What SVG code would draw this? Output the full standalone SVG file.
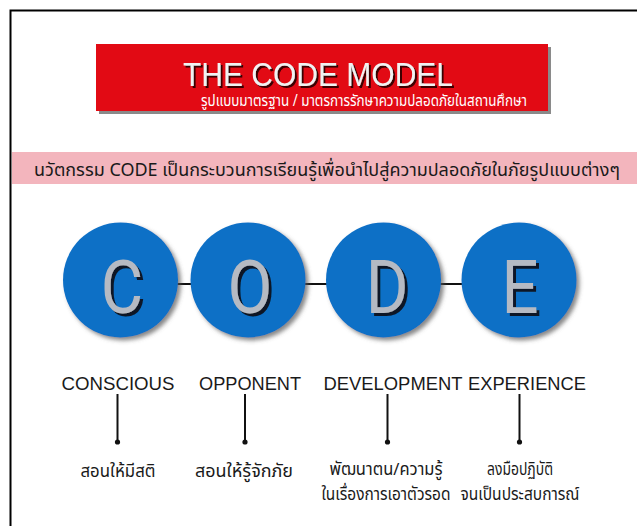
<svg xmlns="http://www.w3.org/2000/svg" width="637" height="526" viewBox="0 0 637 526">
<defs>
<style>
.thai{font-family:"Noto Sans Thai","Noto Sans","DejaVu Sans",sans-serif;fill:#1a1a1a;text-anchor:middle}
.lbl{font-family:"Liberation Sans",Arial,sans-serif;font-size:18px;fill:#1a1a1a;text-anchor:middle}
.circ{fill:#0b6fc6;filter:url(#sh)}
.big{font-family:Roboto,"Liberation Sans",sans-serif;font-size:74px;text-anchor:middle;fill:#b5bac3;filter:url(#ls)}
.conn{stroke:#111;stroke-width:2;fill:none}
</style>
<filter id="sh" x="-20%" y="-20%" width="150%" height="150%">
<feGaussianBlur in="SourceAlpha" stdDeviation="2"/>
<feOffset dx="3" dy="3" result="o"/>
<feFlood flood-color="#555" flood-opacity="0.7"/>
<feComposite in2="o" operator="in"/>
<feMerge><feMergeNode/><feMergeNode in="SourceGraphic"/></feMerge>
</filter>
<filter id="ls" x="-20%" y="-20%" width="150%" height="150%">
<feOffset in="SourceAlpha" dx="3" dy="3" result="o"/>
<feFlood flood-color="#0a1626"/>
<feComposite in2="o" operator="in"/>
<feMerge><feMergeNode/><feMergeNode in="SourceGraphic"/></feMerge>
</filter>
<filter id="ts" x="-10%" y="-30%" width="120%" height="160%">
<feOffset in="SourceAlpha" dx="1.5" dy="1.5" result="o"/>
<feFlood flood-color="#3a0000"/>
<feComposite in2="o" operator="in"/>
<feMerge><feMergeNode/><feMergeNode in="SourceGraphic"/></feMerge>
</filter>
</defs>
<rect x="0" y="0" width="637" height="526" fill="#fff"/>
<rect x="10.5" y="10.5" width="700" height="600" fill="none" stroke="#000" stroke-width="2"/>

<g id="title">
<rect x="99" y="47" width="452" height="67" fill="#8a8a8a"/>
<rect x="96" y="44" width="452" height="67" fill="#e20a14"/>
<text x="318" y="86" font-family="Liberation Sans,Arial,sans-serif" font-size="34" fill="#f2f2f2" text-anchor="middle" textLength="270" lengthAdjust="spacingAndGlyphs" filter="url(#ts)">THE CODE MODEL</text>
<text x="364" y="106" class="thai" style="fill:#fff" font-size="15.5" textLength="326" lengthAdjust="spacingAndGlyphs">รูปแบบมาตรฐาน / มาตรการรักษาความปลอดภัยในสถานศึกษา</text>
</g>

<g id="banner">
<rect x="12" y="152" width="625" height="32" fill="#f3b5bd"/>
<text x="327" y="176" class="thai" font-size="18" textLength="586" lengthAdjust="spacingAndGlyphs">นวัตกรรม CODE เป็นกระบวนการเรียนรู้เพื่อนำไปสู่ความปลอดภัยในภัยรูปแบบต่างๆ</text>
</g>

<g id="connectors">
<line class="conn" x1="176" y1="284" x2="192" y2="284"/>
<line class="conn" x1="304" y1="284" x2="328" y2="284"/>
<line class="conn" x1="438" y1="284" x2="463" y2="284"/>
<line class="conn" x1="117.5" y1="394" x2="117.5" y2="442"/>
<line class="conn" x1="245" y1="394" x2="245" y2="442"/>
<line class="conn" x1="387.5" y1="394" x2="387.5" y2="442"/>
<line class="conn" x1="519.5" y1="394" x2="519.5" y2="442"/>
<circle cx="117.5" cy="442" r="2.6" fill="#111"/>
<circle cx="245" cy="442" r="2.6" fill="#111"/>
<circle cx="387.5" cy="442" r="2.6" fill="#111"/>
<circle cx="519.5" cy="442" r="2.6" fill="#111"/>
</g>

<g id="node-c">
<circle class="circ" cx="120.5" cy="280" r="57.5"/>
<text class="big" transform="translate(122,313) scale(0.88,1)">C</text>
<text class="lbl" x="118" y="390" textLength="113" lengthAdjust="spacingAndGlyphs">CONSCIOUS</text>
<text class="thai" x="118" y="477" font-size="17" textLength="75" lengthAdjust="spacingAndGlyphs">สอนให้มีสติ</text>
</g>

<g id="node-o">
<circle class="circ" cx="248" cy="280" r="57.5"/>
<text class="big" transform="translate(250,313) scale(0.88,1)">O</text>
<text class="lbl" x="250" y="390" textLength="102" lengthAdjust="spacingAndGlyphs">OPPONENT</text>
<text class="thai" x="244" y="477" font-size="17" textLength="98" lengthAdjust="spacingAndGlyphs">สอนให้รู้จักภัย</text>
</g>

<g id="node-d">
<circle class="circ" cx="383.5" cy="280" r="57.5"/>
<text class="big" transform="translate(387,313) scale(0.88,1)">D</text>
<text class="lbl" x="393" y="390" textLength="139" lengthAdjust="spacingAndGlyphs">DEVELOPMENT</text>
<text class="thai" x="386" y="475" font-size="17" textLength="113" lengthAdjust="spacingAndGlyphs">พัฒนาตน/ความรู้</text>
<text class="thai" x="386" y="500" font-size="17" textLength="129" lengthAdjust="spacingAndGlyphs">ในเรื่องการเอาตัวรอด</text>
</g>

<g id="node-e">
<circle class="circ" cx="519" cy="280" r="57.5"/>
<text class="big" transform="translate(520,313) scale(0.88,1)">E</text>
<text class="lbl" x="527" y="390" textLength="118" lengthAdjust="spacingAndGlyphs">EXPERIENCE</text>
<text class="thai" x="520" y="475" font-size="17" textLength="66" lengthAdjust="spacingAndGlyphs">ลงมือปฏิบัติ</text>
<text class="thai" x="520" y="500" font-size="17" textLength="119" lengthAdjust="spacingAndGlyphs">จนเป็นประสบการณ์</text>
</g>
</svg>
